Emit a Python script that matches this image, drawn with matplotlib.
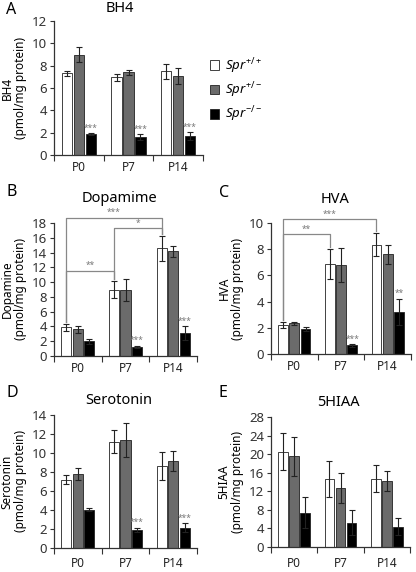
import numpy as np
import matplotlib
matplotlib.use('Agg')
import matplotlib.pyplot as plt
from matplotlib.patches import Patch

plt.rcParams['font.family'] = ['Noto Sans', 'DejaVu Sans']
plt.rcParams['mathtext.fontset'] = 'custom'
plt.rcParams['mathtext.it'] = 'Noto Sans:italic'
plt.rcParams['mathtext.rm'] = 'Noto Sans'

# categories and groups
categories = ['P0', 'P7', 'P14']
genotypes = [r'$\mathit{Spr}^{+/+}$', r'$\mathit{Spr}^{+/-}$', r'$\mathit{Spr}^{-/-}$']

# BH4
bh4_wt = [7.3, 6.95, 7.5]
bh4_wt_err = [0.2, 0.3, 0.65]
bh4_het = [9.0, 7.4, 7.05]
bh4_het_err = [0.7, 0.2, 0.7]
bh4_ko = [1.85, 1.6, 1.7]
bh4_ko_err = [0.1, 0.25, 0.35]
bh4_stars = ['***', '***', '***']

# Dopamine
da_wt = [3.9, 9.0, 14.6]
da_wt_err = [0.45, 1.2, 1.7]
da_het = [3.6, 8.9, 14.2]
da_het_err = [0.45, 1.5, 0.75]
da_ko = [2.0, 1.2, 3.1]
da_ko_err = [0.35, 0.15, 0.9]
da_stars = ['', '***', '***']
# brackets: (from category, to category, level, label)
da_brackets = [(0, 2, 18.7, '***'), (1, 2, 17.3, '*'), (0, 1, 11.5, '**')]

# HVA
hva_wt = [2.2, 6.85, 8.35]
hva_wt_err = [0.25, 1.15, 0.9]
hva_het = [2.35, 6.8, 7.6]
hva_het_err = [0.1, 1.3, 0.7]
hva_ko = [1.9, 0.65, 3.2]
hva_ko_err = [0.15, 0.1, 1.0]
hva_stars = ['', '***', '**']
hva_brackets = [(0, 2, 10.3, '***'), (0, 1, 9.15, '**')]

# Serotonin
ser_wt = [7.2, 11.2, 8.65]
ser_wt_err = [0.5, 1.2, 1.45]
ser_het = [7.8, 11.4, 9.15]
ser_het_err = [0.65, 1.8, 1.05]
ser_ko = [4.05, 1.9, 2.15]
ser_ko_err = [0.15, 0.2, 0.45]
ser_stars = ['', '***', '***']

# 5HIAA
hiaa_wt = [20.5, 14.7, 14.7]
hiaa_wt_err = [4.0, 3.9, 2.9]
hiaa_het = [19.5, 12.7, 14.2]
hiaa_het_err = [4.2, 3.3, 2.1]
hiaa_ko = [7.4, 5.2, 4.4]
hiaa_ko_err = [3.3, 2.7, 1.8]
hiaa_stars = ['', '', '']

W, H = 416, 572
fig = plt.figure(figsize=(W / 100, H / 100), dpi=100)

colors = ['white', '#6b6b6b', 'black']
offsets = [-0.24, 0.0, 0.24]
bar_w = 0.21


def add_axes_px(left, top, right, bottom):
    return fig.add_axes([left / W, 1 - bottom / H, (right - left) / W, (bottom - top) / H])


def panel(box, letter_xy, title_xy, letter, title, ylab, series, errs, ymax, ystep, stars,
          brackets=(), xpad=4):
    left, top, right, bottom = box
    ax = add_axes_px(left, top, right, bottom)
    x = np.arange(len(categories))
    for vals, err, col, off in zip(series, errs, colors, offsets):
        ax.bar(x + off, vals, bar_w, color=col, edgecolor='#222222', linewidth=0.6, zorder=2)
        ax.errorbar(x + off, vals, yerr=err, fmt='none', ecolor='#222222',
                    elinewidth=0.8, capsize=2, capthick=0.8, zorder=3)
    # stars over knockout bars
    ko, ko_err = series[2], errs[2]
    for i, s in enumerate(stars):
        if s:
            ax.text(x[i] + offsets[2], ko[i] + ko_err[i] + ymax * 0.005, s, ha='center', va='bottom',
                    fontsize=6, color='#777777')
    # comparison brackets between wild-type bars
    wt, wt_err = series[0], errs[0]
    gap = ymax * 0.015
    for i, j, lvl, lab in brackets:
        xi, xj = x[i] + offsets[0], x[j] + offsets[0]
        ax.plot([xi, xi, xj, xj], [wt[i] + wt_err[i] + gap, lvl, lvl, wt[j] + wt_err[j] + gap],
                color='#888888', lw=0.9, clip_on=False, zorder=4)
        ax.text((xi + xj) / 2, lvl + ymax * 0.005, lab, ha='center', va='bottom',
                fontsize=6, color='#777777', clip_on=False)
    ax.set_xlim(-0.5, len(categories) - 0.5)
    ax.set_ylim(0, ymax)
    ax.set_yticks(np.arange(0, ymax + 0.001, ystep))
    ax.set_xticks(np.arange(-0.5, len(categories), 1.0))
    ax.set_xticklabels([])
    ax.set_xticks(x, minor=True)
    ax.set_xticklabels(categories, minor=True)
    ax.tick_params(axis='x', which='major', direction='out', length=4, width=0.8, color='#333333')
    ax.tick_params(axis='x', which='minor', length=0, pad=xpad, labelsize=8.5, labelcolor='#222222')
    ax.tick_params(axis='y', direction='out', length=3, width=0.8, color='#333333',
                   labelsize=9.5, labelcolor='#333333', pad=2)
    for sp in ['top', 'right']:
        ax.spines[sp].set_visible(False)
    for sp in ['left', 'bottom']:
        ax.spines[sp].set_linewidth(0.9)
        ax.spines[sp].set_color('#333333')
    ymid = (top + bottom) / 2
    fig.text((left - 40) / W, 1 - ymid / H, ylab + '\n(pmol/mg protein)', rotation=90,
             ha='center', va='center', multialignment='center', fontsize=8.5,
             fontweight='bold', linespacing=1.1)
    fig.text(letter_xy[0] / W, 1 - letter_xy[1] / H, letter, fontsize=11.5, ha='left', va='center')
    fig.text(title_xy[0] / W, 1 - title_xy[1] / H, title, fontsize=10.5, ha='center', va='center')
    return ax


panel((54, 21, 203, 155), (6, 10), (120, 9), 'A', 'BH4', 'BH4',
      [bh4_wt, bh4_het, bh4_ko], [bh4_wt_err, bh4_het_err, bh4_ko_err], 12, 2, bh4_stars)
panel((54, 223, 197, 356), (6, 192), (120, 198), 'B', 'Dopamime', 'Dopamine',
      [da_wt, da_het, da_ko], [da_wt_err, da_het_err, da_ko_err], 18, 2, da_stars, da_brackets)
panel((271, 223, 411, 354), (219, 193), (335, 200), 'C', 'HVA', 'HVA',
      [hva_wt, hva_het, hva_ko], [hva_wt_err, hva_het_err, hva_ko_err], 10, 2, hva_stars,
      hva_brackets)
panel((54, 415, 197, 548), (6, 393), (119, 400), 'D', 'Serotonin', 'Serotonin',
      [ser_wt, ser_het, ser_ko], [ser_wt_err, ser_het_err, ser_ko_err], 14, 2, ser_stars, xpad=6.5)
panel((271, 417, 410, 547), (219, 393), (338, 402), 'E', '5HIAA', '5HIAA',
      [hiaa_wt, hiaa_het, hiaa_ko], [hiaa_wt_err, hiaa_het_err, hiaa_ko_err], 28, 4, hiaa_stars,
      xpad=7)

handles = [Patch(facecolor=c, edgecolor='#222222', linewidth=0.6) for c in colors]
fig.legend(handles, genotypes, loc='center left', bbox_to_anchor=(203 / W, 1 - 90 / H),
           frameon=False, fontsize=9.5, handlelength=0.75, handleheight=0.75,
           handletextpad=0.4, labelspacing=0.35, borderpad=0)

fig.savefig('out.png', dpi=100)
